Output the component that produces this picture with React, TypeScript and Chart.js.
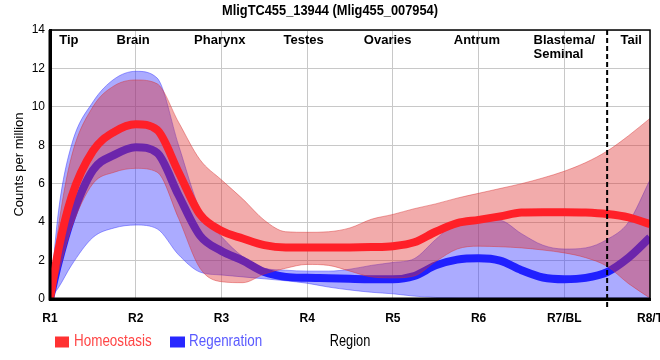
import React, { useEffect, useRef } from "react";
import { Chart, registerables } from "chart.js";

Chart.register(...registerables);

const chartTitle = "MligTC455_13944 (Mlig455_007954)";
const regionTicks = ["R1", "R2", "R3", "R4", "R5", "R6", "R7/BL", "R8/T"];
const regionNames = ["Tip", "Brain", "Pharynx", "Testes", "Ovaries", "Antrum", "Blastema/\nSeminal", "Tail"];
const regionNamePos = [0.22, 0.97, 1.98, 2.96, 3.94, 4.98, 6.0, 6.78];
const tailBoundary = 6.5;

const xs = [0, 0.1, 0.25, 0.5, 0.75, 1, 1.25, 1.5, 1.75, 2, 2.25, 2.5, 2.75, 3, 3.25, 3.5, 3.75, 4, 4.25, 4.5, 4.75, 5, 5.25, 5.5, 5.75, 6, 6.25, 6.5, 6.75, 7];

const homeoMean = [0, 2.6, 5.3, 7.7, 8.7, 9.1, 8.8, 6.6, 4.4, 3.55, 3.15, 2.8, 2.68, 2.68, 2.68, 2.68, 2.7, 2.75, 2.95, 3.5, 3.95, 4.12, 4.3, 4.5, 4.52, 4.52, 4.5, 4.42, 4.25, 3.9];
const homeoUpper = [0, 3.8, 7.4, 10.0, 11.1, 11.4, 11.2, 9.2, 7.25, 6.2, 5.2, 4.1, 3.5, 3.47, 3.5, 3.7, 4.15, 4.4, 4.7, 4.95, 5.25, 5.5, 5.75, 6.0, 6.3, 6.65, 7.1, 7.7, 8.5, 9.4];
const homeoLower = [0, 1.4, 3.7, 6.0, 6.6, 6.8, 6.6, 4.2, 1.6, 0.9, 0.85, 1.3, 1.6, 1.8, 1.75, 1.45, 1.15, 1.1, 1.2, 1.95, 2.6, 2.75, 2.72, 2.66, 2.55, 2.4, 2.15, 1.7, 0.8, 0.05];

const regenMean = [0, 1.9, 4.2, 6.7, 7.5, 7.9, 7.6, 5.4, 3.3, 2.5, 2.0, 1.4, 1.15, 1.1, 1.08, 1.05, 1.03, 1.03, 1.2, 1.75, 2.05, 2.12, 2.0, 1.5, 1.12, 1.03, 1.1, 1.4, 2.15, 3.2];
const regenUpper = [0, 4.6, 8.0, 10.25, 11.45, 11.85, 11.5, 8.0, 4.65, 3.25, 2.2, 1.6, 1.5, 1.45, 1.45, 1.55, 1.75, 1.9, 2.1, 3.1, 4.0, 4.15, 4.1, 3.4, 2.8, 2.6, 2.66, 3.1, 4.0, 6.2];
const regenLower = [0, 0.6, 1.75, 3.2, 3.7, 3.85, 3.65, 2.3, 1.4, 1.25, 1.15, 1.05, 0.95, 0.82, 0.62, 0.47, 0.35, 0.27, 0.15, 0.08, 0.05, 0.05, 0.05, 0.05, 0.05, 0.05, 0.05, 0.05, 0.05, 0.05];

const legendNames = ["Homeostasis", "Regenration"];
const xAxisTitle = "Region";
const yAxisTitle = "Counts per million";

const SANS = "'Liberation Sans', Arial, sans-serif";

const RED_LINE = "rgb(255,32,40)";
const BLUE_LINE = "rgb(32,32,255)";
const RED_BAND = "rgba(222,45,45,0.4)";
const BLUE_BAND = "rgba(45,45,255,0.4)";
const RED_EDGE = "rgba(215,50,50,0.45)";
const BLUE_EDGE = "rgba(50,50,255,0.45)";

const pts = (ys: number[]) => xs.map((x, i) => ({ x, y: ys[i] }));

// draw text horizontally condensed (narrow face emulation)
function narrowText(ctx: any, text: string, x: number, y: number, sx: number, align: string) {
  ctx.save();
  ctx.translate(x, y);
  ctx.scale(sx, 1);
  ctx.textAlign = align;
  ctx.fillText(text, 0, 0);
  ctx.restore();
}

const overlayPlugin = {
  id: "overlay",
  afterDatasetsDraw(chart: any) {
    const { ctx, chartArea, scales } = chart;
    const { left, right, top, bottom } = chartArea;
    const x = scales.x;
    ctx.save();
    ctx.strokeStyle = "#000";
    ctx.lineWidth = 1.5;
    ctx.beginPath();
    ctx.moveTo(left, top);
    ctx.lineTo(right, top);
    ctx.lineTo(right, bottom);
    ctx.stroke();
    ctx.lineWidth = 3;
    ctx.beginPath();
    ctx.moveTo(left, top);
    ctx.lineTo(left, bottom);
    ctx.lineTo(right, bottom);
    ctx.stroke();
    const xd = x.getPixelForValue(tailBoundary);
    ctx.setLineDash([5, 3]);
    ctx.lineWidth = 2;
    ctx.beginPath();
    ctx.moveTo(xd, top);
    ctx.lineTo(xd, bottom + 9);
    ctx.stroke();
    ctx.setLineDash([]);
    ctx.fillStyle = "#000";
    ctx.font = `bold 13px ${SANS}`;
    ctx.textBaseline = "middle";
    regionNames.forEach((name, i) => {
      const lines = name.split("\n");
      const cx = x.getPixelForValue(regionNamePos[i]);
      const w = Math.max(...lines.map((l) => ctx.measureText(l).width));
      ctx.textAlign = "left";
      lines.forEach((l, j) => {
        ctx.fillText(l, cx - w / 2, top + 10 + j * 14);
      });
    });
    ctx.restore();
  },
  afterDraw(chart: any) {
    const { ctx, chartArea } = chart;
    ctx.save();
    ctx.textBaseline = "middle";
    ctx.fillStyle = "#000";
    ctx.font = `bold 15px ${SANS}`;
    narrowText(ctx, chartTitle, 330, 11, 0.855, "center");
    const ly = 342;
    ctx.font = `16px ${SANS}`;
    ctx.fillStyle = "rgb(255,50,50)";
    ctx.fillRect(55, ly - 5.5, 14, 11);
    ctx.fillStyle = "rgb(255,70,70)";
    narrowText(ctx, legendNames[0], 74, ly, 0.84, "left");
    ctx.fillStyle = "rgb(40,40,255)";
    ctx.fillRect(170, ly - 5.5, 15, 11);
    ctx.fillStyle = "rgb(90,90,255)";
    narrowText(ctx, legendNames[1], 189, ly, 0.84, "left");
    ctx.fillStyle = "#000";
    narrowText(ctx, xAxisTitle, (chartArea.left + chartArea.right) / 2, ly, 0.8, "center");
    ctx.restore();
  },
};

export default function App() {
  const ref = useRef<HTMLCanvasElement | null>(null);
  useEffect(() => {
    if (!ref.current) return;
    const common = { pointRadius: 0, cubicInterpolationMode: "monotone" };
    const chart = new Chart(ref.current, {
      type: "line",
      data: {
        datasets: [
          { ...common, label: "regenUpper", data: pts(regenUpper), borderColor: BLUE_EDGE, borderWidth: 1, backgroundColor: BLUE_BAND, fill: "+1", order: 4 },
          { ...common, label: "regenLower", data: pts(regenLower), borderColor: BLUE_EDGE, borderWidth: 1, fill: false, order: 4 },
          { ...common, label: legendNames[1], data: pts(regenMean), borderColor: BLUE_LINE, borderWidth: 8, fill: false, order: 3 },
          { ...common, label: "homeoUpper", data: pts(homeoUpper), borderColor: RED_EDGE, borderWidth: 1, backgroundColor: RED_BAND, fill: "+1", order: 2 },
          { ...common, label: "homeoLower", data: pts(homeoLower), borderColor: RED_EDGE, borderWidth: 1, fill: false, order: 2 },
          { ...common, label: legendNames[0], data: pts(homeoMean), borderColor: RED_LINE, borderWidth: 8, fill: false, order: 1 },
        ] as any,
      },
      options: {
        responsive: false,
        animation: false,
        layout: { padding: { left: 0, right: 10, top: 30, bottom: 36 } },
        plugins: { legend: { display: false }, title: { display: false }, tooltip: { enabled: false } },
        scales: {
          x: {
            type: "linear",
            min: 0,
            max: 7,
            afterFit(s: any) {
              s.height = 25;
              s.paddingLeft = 0;
              s.paddingRight = 0;
            },
            ticks: {
              stepSize: 1,
              autoSkip: false,
              maxRotation: 0,
              padding: 12,
              color: "#000",
              font: { family: SANS, size: 12, weight: "bold" },
              callback: (v: any) => (Number.isInteger(v) ? regionTicks[v] ?? "" : ""),
            },
            grid: { color: "#c8c8c8", lineWidth: 1, drawTicks: false },
            border: { color: "#000", width: 3 },
          },
          y: {
            min: 0,
            max: 14,
            afterFit(s: any) {
              s.width = 50;
              s.paddingTop = 0;
              s.paddingBottom = 0;
            },
            ticks: { stepSize: 2, padding: 5, color: "#000", font: { family: SANS, size: 12 } },
            title: { display: true, text: yAxisTitle, color: "#000", font: { family: SANS, size: 13 }, padding: { top: 12, bottom: 0 } },
            grid: { color: "#c8c8c8", lineWidth: 1, drawTicks: false },
            border: { color: "#000", width: 3 },
          },
        },
      } as any,
      plugins: [overlayPlugin],
    });
    return () => chart.destroy();
  }, []);
  return (
    <div style={{ position: "absolute", left: 0, top: 0, width: 660, height: 360, background: "#fff" }}>
      <canvas ref={ref} width={660} height={360} />
    </div>
  );
}
